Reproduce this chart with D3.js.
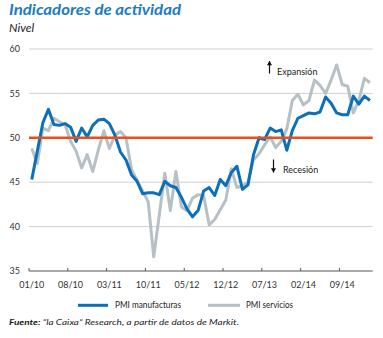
<!DOCTYPE html>
<html><head><meta charset="utf-8">
<script src="https://cdn.jsdelivr.net/npm/d3@7"></script>
<style>body{margin:0;background:#fff}svg{display:block}</style></head>
<body><svg id="c" width="383" height="338"></svg>
<script>
// Months Jan 2010 .. Feb 2015
const months = d3.timeMonths(new Date(2010, 0, 1), new Date(2015, 2, 1));
const fmt = d3.timeFormat("%m/%y");
const categories = months.map(fmt);

const manufacturas = [
  45.3, 48.5, 51.7, 53.2, 51.5, 51.4, 51.6, 51.2, 49.6, 51.1, 50.1, 51.4,
  52.0, 52.1, 51.6, 50.3, 48.4, 47.5, 45.8, 45.1, 43.7, 43.8, 43.8, 43.6,
  45.1, 44.6, 44.4, 43.3, 42.0, 41.1, 41.8, 44.0, 44.4, 43.5, 45.3, 44.6,
  46.1, 46.8, 44.2, 44.7, 48.1, 50.0, 49.8, 51.1, 50.7, 50.9, 48.6, 50.8,
  52.2, 52.5, 52.8, 52.7, 52.9, 54.6, 53.9, 52.8, 52.6, 52.6, 54.7, 53.8,
  54.7, 54.2
];
const servicios = [
  48.8, 47.1, 51.1, 50.8, 52.2, 51.8, 51.5, 49.6, 48.5, 46.6, 48.1, 46.2,
  48.6, 50.8, 48.8, 50.3, 50.7, 50.0, 46.4, 45.2, 44.0, 42.8, 36.6, 41.3,
  46.0, 41.8, 46.2, 42.2, 41.8, 43.2, 43.6, 43.5, 40.2, 40.8, 41.9, 43.0,
  46.5, 44.4, 44.6, 45.0, 47.5, 48.2, 49.2, 50.1, 48.9, 49.6, 51.0, 54.2,
  54.9, 53.7, 54.2, 56.5, 55.9, 55.0, 56.5, 58.2, 56.0, 55.8, 52.8, 54.2,
  56.7, 56.2
];
const xTickLabels = ["01/10","08/10","03/11","10/11","05/12","12/12","07/13","02/14","09/14"];
const yTicks = [35, 40, 45, 50, 55, 60];
const threshold = 50;
const seriesNames = ["PMI manufacturas", "PMI servicios"];

const svg = d3.select("#c");
const font = "Lato, 'Open Sans', sans-serif";
const colBlue = "#0b70b9", colGray = "#b6c0c5", colRed = "#e5501f", colTitle = "#1c7cc3";

const x = d3.scaleBand().domain(categories).range([29, 372.7]).paddingInner(0).paddingOuter(0);
const y = d3.scaleLinear().domain([35, 60]).range([271, 49]);
const cx = (i) => x(categories[i]) + x.bandwidth() / 2;

// Title
svg.append("text").attr("x", 9).attr("y", 15).attr("font-family", font)
  .attr("font-weight", "bold").attr("font-style", "italic").attr("font-size", 16)
  .attr("fill", colTitle).attr("textLength", 172).attr("lengthAdjust", "spacingAndGlyphs")
  .text("Indicadores de actividad");
svg.append("text").attr("x", 9).attr("y", 31.5).attr("font-family", font)
  .attr("font-style", "italic").attr("font-size", 12).attr("fill", "#222").text("Nivel");

// Grid
svg.append("g").selectAll("line").data(yTicks.filter(d => d !== 35 && d !== threshold)).join("line")
  .attr("x1", 29).attr("x2", 372.7).attr("y1", d => y(d)).attr("y2", d => y(d))
  .attr("stroke", "#cfcfcf").attr("stroke-width", 1);

// Y labels
svg.append("g").selectAll("text").data(yTicks).join("text")
  .attr("x", 20).attr("y", d => y(d)).attr("dy", "0.35em").attr("text-anchor", "end")
  .attr("font-family", font).attr("font-size", 9).attr("fill", "#333").text(d => d);

// X axis
svg.append("line").attr("x1", 29).attr("x2", 372.7).attr("y1", y(35)).attr("y2", y(35))
  .attr("stroke", "#555").attr("stroke-width", 1);
const tickIdx = xTickLabels.map(l => categories.indexOf(l));
svg.append("g").selectAll("line").data(tickIdx).join("line")
  .attr("x1", i => x(categories[i])).attr("x2", i => x(categories[i]))
  .attr("y1", y(35) - 3).attr("y2", y(35)).attr("stroke", "#555");
svg.append("g").selectAll("text").data(tickIdx).join("text")
  .attr("x", i => cx(i)).attr("y", 288).attr("text-anchor", "middle")
  .attr("font-family", font).attr("font-size", 9).attr("fill", "#333")
  .text(i => categories[i]);

// Lines
const line = d3.line().x((d, i) => cx(i)).y(d => y(d)).curve(d3.curveLinear);
svg.append("path").datum(servicios).attr("d", line).attr("fill", "none")
  .attr("stroke", colGray).attr("stroke-width", 3).attr("stroke-linejoin", "round");
svg.append("path").datum(manufacturas).attr("d", line).attr("fill", "none")
  .attr("stroke", colBlue).attr("stroke-width", 3).attr("stroke-linejoin", "round");

// Threshold line
svg.append("line").attr("x1", 29).attr("x2", 372.7).attr("y1", y(threshold)).attr("y2", y(threshold))
  .attr("stroke", colRed).attr("stroke-width", 2.5);

// Annotations
function arrow(xp, y1, y2) {
  svg.append("line").attr("x1", xp).attr("x2", xp).attr("y1", y1).attr("y2", y2)
    .attr("stroke", "#111").attr("stroke-width", 1.2);
  const dir = y2 > y1 ? 1 : -1;
  const tip = y1;
  svg.append("path").attr("d", `M${xp - 2.6},${tip + dir * 4.2} L${xp},${tip} L${xp + 2.6},${tip + dir * 4.2} Z`)
    .attr("fill", "#111");
}
arrow(269.5, 61, 73.5);
svg.append("text").attr("x", 277).attr("y", 74.5).attr("font-family", font).attr("font-size", 9)
  .attr("fill", "#222").text("Expansión");
arrow(273.5, 172.5, 159.5);
svg.append("text").attr("x", 283).attr("y", 172.5).attr("font-family", font).attr("font-size", 9)
  .attr("fill", "#222").text("Recesión");

// Legend
const legend = [
  {name: seriesNames[0], color: colBlue, x1: 78, x2: 108, tx: 115, tl: 66},
  {name: seriesNames[1], color: colGray, x1: 208, x2: 240, tx: 246, tl: 47}
];
legend.forEach(l => {
  svg.append("line").attr("x1", l.x1).attr("x2", l.x2).attr("y1", 305.3).attr("y2", 305.3)
    .attr("stroke", l.color).attr("stroke-width", 3);
  svg.append("text").attr("x", l.tx).attr("y", 308.3).attr("font-family", font).attr("font-size", 8.5)
    .attr("fill", "#222").attr("textLength", l.tl).attr("lengthAdjust", "spacingAndGlyphs").text(l.name);
});

// Footnote
const fn = svg.append("text").attr("x", 9).attr("y", 325).attr("font-family", font)
  .attr("font-size", 8).attr("font-style", "italic").attr("fill", "#222")
  .attr("textLength", 230).attr("lengthAdjust", "spacingAndGlyphs");
fn.append("tspan").attr("font-weight", "bold").text("Fuente: ");
fn.append("tspan").text("\u201Cla Caixa\u201D Research, a partir de datos de Markit.");
</script></body></html>
